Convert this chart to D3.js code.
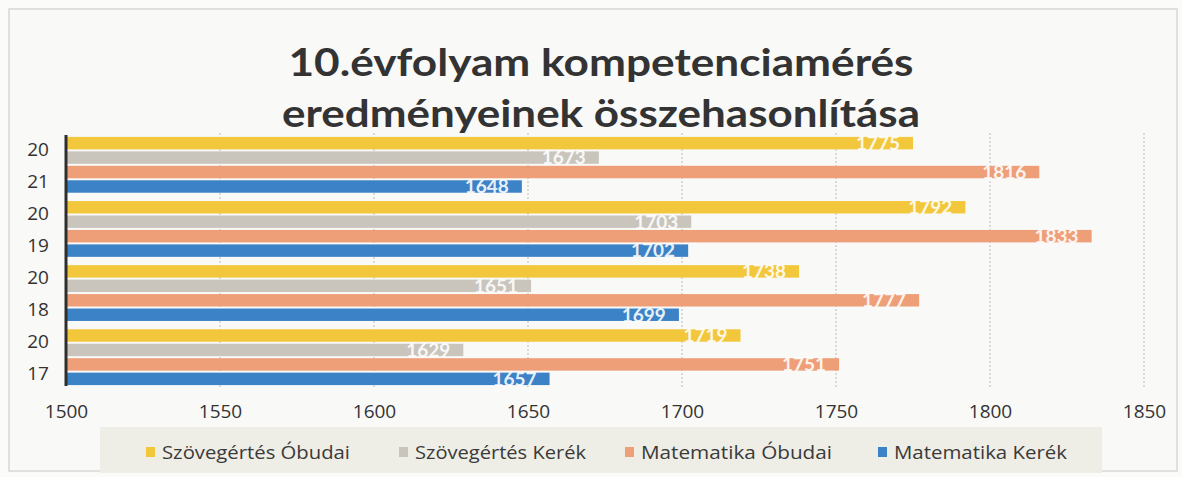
<!DOCTYPE html>
<html>
<head>
<meta charset="utf-8">
<script src="https://cdn.jsdelivr.net/npm/d3@7"></script>
<style>
  body { margin: 0; background: #fff; }
  svg { display: block; }
</style>
</head>
<body>
<div id="chart"></div>
<script>
// years, top to bottom
const years = ["2021", "2019", "2018", "2017"];
const series = ["Szövegértés Óbudai", "Szövegértés Kerék", "Matematika Óbudai", "Matematika Kerék"];
const colors = ["#f2c73c", "#c9c5bd", "#ee9f78", "#3c82c6"];

const szovegObudai = [1775, 1792, 1738, 1719];
const szovegKerek = [1673, 1703, 1651, 1629];
const matekObudai = [1816, 1833, 1777, 1751];
const matekKerek = [1648, 1702, 1699, 1657];
const values = [szovegObudai, szovegKerek, matekObudai, matekKerek];

const xTicks = [1500, 1550, 1600, 1650, 1700, 1750, 1800, 1850];

const width = 1182, height = 477;
const font = "'Open Sans', Lato, sans-serif";

const svg = d3.select("#chart").append("svg")
    .attr("width", width)
    .attr("height", height)
    .style("font-family", font);

// paper background + frame
svg.append("rect")
    .attr("x", 0).attr("y", 0).attr("width", width).attr("height", height)
    .attr("fill", "#fbfbfa");
svg.append("rect")
    .attr("x", 9).attr("y", 9).attr("width", 1168).attr("height", 462)
    .attr("fill", "#f9f9f8")
    .attr("stroke", "#d8d8d6")
    .attr("stroke-width", 1.5);

const x = d3.scaleLinear().domain([1500, 1850]).range([66, 1144]);
const y = d3.scaleBand().domain(years).range([135, 387]).paddingInner(0.13).paddingOuter(0.03);
const ySub = d3.scaleBand().domain(series).range([0, y.bandwidth()]).paddingInner(0.14);

// gridlines
svg.append("g")
  .selectAll("line")
  .data(xTicks.slice(1))
  .join("line")
    .attr("x1", d => x(d)).attr("x2", d => x(d))
    .attr("y1", 133).attr("y2", 388)
    .attr("stroke", "#b9b9b9")
    .attr("stroke-width", 1)
    .attr("stroke-dasharray", "2,2");

// bars
const rows = [];
years.forEach((yr, i) => series.forEach((s, j) => rows.push({ year: yr, s, j, v: values[j][i] })));

svg.append("g")
  .selectAll("rect")
  .data(rows)
  .join("rect")
    .attr("x", x(1500))
    .attr("y", d => y(d.year) + ySub(d.s))
    .attr("width", d => x(d.v) - x(1500))
    .attr("height", ySub.bandwidth())
    .attr("fill", d => colors[d.j]);

// value labels
svg.append("g")
  .selectAll("text")
  .data(rows)
  .join("text")
    .attr("x", d => x(d.v) - 13)
    .attr("y", d => y(d.year) + ySub(d.s) + ySub.bandwidth() / 2)
    .attr("dy", "0.36em")
    .attr("text-anchor", "end")
    .attr("fill", "#fff")
    .attr("fill-opacity", 0.9)
    .style("font-family", "Lato, sans-serif")
    .style("font-size", "19px")
    .style("font-weight", "bold")
    .text(d => d.v);

// vertical axis line
svg.append("line")
    .attr("x1", 66).attr("x2", 66)
    .attr("y1", 135).attr("y2", 386)
    .attr("stroke", "#2e2e2e")
    .attr("stroke-width", 3);

// year labels, split in two lines like the original
const yl = svg.append("g")
  .selectAll("text")
  .data(years)
  .join("text")
    .attr("text-anchor", "middle")
    .attr("fill", "#333")
    .style("font-size", "19px");
yl.append("tspan")
    .attr("x", 38)
    .attr("y", d => y(d) + y.bandwidth() / 2 - 9)
    .text(d => d.slice(0, 2));
yl.append("tspan")
    .attr("x", 38)
    .attr("y", d => y(d) + y.bandwidth() / 2 + 23)
    .text(d => d.slice(2));

// x axis tick labels
const xAxis = d3.axisBottom(x).tickValues(xTicks).tickSize(0).tickPadding(0).tickFormat(d3.format("d"));
const gx = svg.append("g")
    .attr("transform", "translate(0,404)")
    .call(xAxis);
gx.select(".domain").remove();
gx.selectAll("text")
    .attr("fill", "#333")
    .style("font-family", font)
    .style("font-size", "19px");

// legend
svg.append("rect")
    .attr("x", 100).attr("y", 427).attr("width", 1002).attr("height", 46)
    .attr("fill", "#eeede6");

const legendX = [146, 399, 625, 878];
const legendW = [188, 171, 191, 173];
const lg = svg.append("g")
  .selectAll("g")
  .data(series)
  .join("g")
    .attr("transform", (d, i) => `translate(${legendX[i]},452)`);
lg.append("rect")
    .attr("x", 0).attr("y", -5).attr("width", 9).attr("height", 10)
    .attr("fill", (d, i) => colors[i]);
lg.append("text")
    .attr("x", 16)
    .attr("dy", "0.35em")
    .attr("fill", "#3a3a3a")
    .attr("textLength", (d, i) => legendW[i])
    .attr("lengthAdjust", "spacingAndGlyphs")
    .style("font-size", "19px")
    .text(d => d);

// title
const title = ["10.évfolyam kompetenciamérés", "eredményeinek összehasonlítása"];
const titleW = [625, 638];
svg.append("g")
  .selectAll("text")
  .data(title)
  .join("text")
    .attr("x", 601)
    .attr("y", (d, i) => 76 + i * 51)
    .attr("text-anchor", "middle")
    .attr("fill", "#333")
    .attr("textLength", (d, i) => titleW[i])
    .attr("lengthAdjust", "spacingAndGlyphs")
    .style("font-family", "Lato, sans-serif")
    .style("font-size", "38px")
    .style("font-weight", "bold")
    .text(d => d);
</script>
</body>
</html>
